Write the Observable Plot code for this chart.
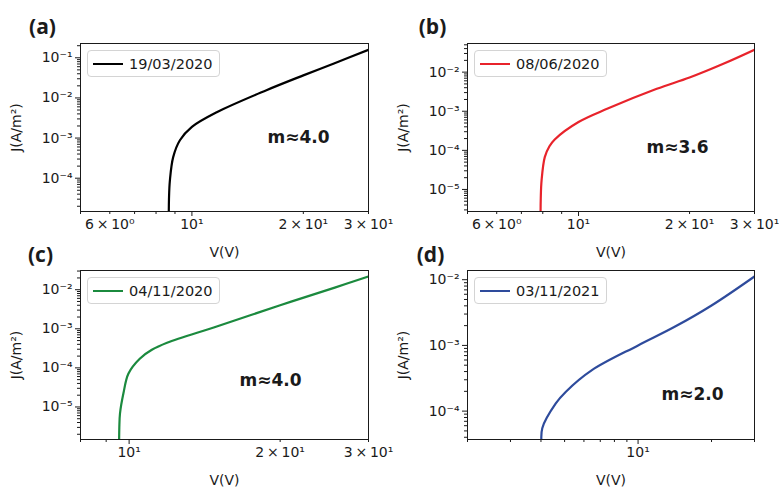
<!DOCTYPE html>
<html>
<head>
<meta charset="utf-8">
<script src="https://cdn.jsdelivr.net/npm/d3@7"></script>
<script src="https://cdn.jsdelivr.net/npm/@observablehq/plot@0.6"></script>
<style>
  body { margin: 0; background: #fff; }
  #fig { position: relative; width: 779px; height: 488px; background: #fff; overflow: hidden; }
  #fig svg { position: absolute; left: 0; top: 0; overflow: visible; }
  .legend { position: absolute; box-sizing: border-box; border: 1px solid #d4d4d4; border-radius: 4px;
            background: rgba(255,255,255,0.85); display: flex; align-items: center;
            font-family: "DejaVu Sans"; font-size: 14.5px; color: #1a1a1a; }
  .legend .swatch { display: inline-block; width: 30px; height: 2px; margin-left: 5px; margin-right: 6px; }
</style>
</head>
<body>
<div id="fig"></div>
<script>
const W = 779, H = 488;

// ---- data ----
const panelLabels = ["(a)", "(b)", "(c)", "(d)"];
const seriesNames = ["19/03/2020", "08/06/2020", "04/11/2020", "03/11/2021"];
const slopeLabels = ["m≈4.0", "m≈3.6", "m≈4.0", "m≈2.0"];
const seriesColors = ["#000000", "#e8232b", "#1b8a3e", "#2e4b9c"];
const xAxisLabel = "V(V)";
const yAxisLabel = "J(A/m²)";

const vA = [8.66, 8.67, 8.72, 8.9, 9.28, 10, 11.67, 15.9, 20, 24.2, 30];
const jA = [1.0e-5, 3.0e-5, 8.8e-5, 3.35e-4, 8.8e-4, 1.9e-3, 4.4e-3, 0.0156, 0.0365, 0.072, 0.158];

const vB = [7.89, 7.9, 7.94, 8.1, 8.34, 8.62, 10, 12, 16.3, 20, 24.7, 30];
const jB = [2.0e-6, 6.0e-6, 1.7e-5, 6.7e-5, 1.27e-4, 1.9e-4, 5.3e-4, 1.17e-3, 3.75e-3, 7.3e-3, 0.0164, 0.0375];

const vC = [9.55, 9.56, 9.59, 9.74, 9.97, 10.5, 11.1, 11.9, 15.0, 20, 25.7, 30];
const jC = [1.0e-6, 3.0e-6, 6.8e-6, 2.2e-5, 7.2e-5, 1.72e-4, 2.9e-4, 4.4e-4, 1.16e-3, 4.0e-3, 0.0113, 0.0219];

const vD = [4.03, 4.05, 4.6, 5.05, 6.47, 10, 14.06, 20, 30];
const jD = [3.0e-5, 5.5e-5, 1.31e-4, 1.96e-4, 4.2e-4, 1.0e-3, 1.9e-3, 4.05e-3, 0.0112];

const xDomains = [[5, 30], [5, 30], [8, 30], [2, 30]];
const yDomains = [[1.48e-5, 0.227], [2.73e-6, 0.054], [1.47e-6, 0.031], [3.7e-5, 0.0138]];

const xTickValues = [[6, 10, 20, 30], [6, 10, 20, 30], [10, 20, 30], [10]];
const xTickLabels = [
  ["6\u2009×\u200910⁰", "10¹", "2\u2009×\u200910¹", "3\u2009×\u200910¹"],
  ["6\u2009×\u200910⁰", "10¹", "2\u2009×\u200910¹", "3\u2009×\u200910¹"],
  ["10¹", "2\u2009×\u200910¹", "3\u2009×\u200910¹"],
  ["10¹"]
];
const yTickValues = [[1e-1, 1e-2, 1e-3, 1e-4], [1e-2, 1e-3, 1e-4, 1e-5], [1e-2, 1e-3, 1e-4, 1e-5], [1e-2, 1e-3, 1e-4]];
const yTickLabels = [
  ["10⁻¹", "10⁻²", "10⁻³", "10⁻⁴"],
  ["10⁻²", "10⁻³", "10⁻⁴", "10⁻⁵"],
  ["10⁻²", "10⁻³", "10⁻⁴", "10⁻⁵"],
  ["10⁻²", "10⁻³", "10⁻⁴"]
];

// ---- layout ----
const frames = [[80, 368, 43, 211], [467, 754, 43, 211], [80, 368, 270, 439], [467, 754, 270, 439]];
const annotOffsets = [[218, 94], [210, 104], [190, 110], [225, 124]];
const labelOffsets = [[-38, -16], [-35, -16], [-40, -15], [-37, -15]];

const vs = [vA, vB, vC, vD];
const js = [jA, jB, jC, jD];

function logTicks(domain, minor) {
  const out = [];
  const k0 = Math.floor(Math.log10(domain[0])), k1 = Math.ceil(Math.log10(domain[1]));
  for (let k = k0; k <= k1; k++) {
    const ms = minor ? [2, 3, 4, 5, 6, 7, 8, 9] : [1];
    for (const m of ms) {
      const v = m * Math.pow(10, k);
      if (v >= domain[0] * 0.999 && v <= domain[1] * 1.001) out.push(v);
    }
  }
  return out;
}

const fig = document.getElementById("fig");
const ink = "#1a1a1a";

for (let i = 0; i < 4; i++) {
  const [x0, x1, y0, y1] = frames[i];
  const fw = x1 - x0, fh = y1 - y0;
  const data = vs[i].map((v, k) => ({V: v, J: js[i][k]}));
  const xd = xDomains[i], yd = yDomains[i];
  const xl = (d) => xTickLabels[i][xTickValues[i].indexOf(d)];
  const yl = (d) => yTickLabels[i][yTickValues[i].indexOf(d)];
  const plot = Plot.plot({
    width: W, height: H,
    marginLeft: x0, marginRight: W - x1, marginTop: y0, marginBottom: H - y1,
    style: {fontFamily: "DejaVu Sans", fontSize: "14px", color: ink, background: "transparent", overflow: "visible"},
    x: {type: "log", domain: xd, axis: null},
    y: {type: "log", domain: yd, axis: null},
    marks: [
      Plot.line(data, {x: "V", y: "J", stroke: seriesColors[i], strokeWidth: 2.2, curve: "catmull-rom", clip: true}),
      Plot.frame({stroke: ink, strokeWidth: 1}),
      // x ticks (major long, minor short), outward
      Plot.ruleX(logTicks(xd, false), {x: d => d, stroke: ink, insetTop: fh, insetBottom: -5}),
      Plot.ruleX(logTicks(xd, true), {x: d => d, stroke: ink, insetTop: fh, insetBottom: -3}),
      Plot.text(xTickValues[i], {x: d => d, text: xl, frameAnchor: "bottom", dy: 8, lineAnchor: "top", fontSize: 14, fill: ink}),
      // y ticks
      Plot.ruleY(logTicks(yd, false), {y: d => d, stroke: ink, insetRight: fw, insetLeft: -5}),
      Plot.ruleY(logTicks(yd, true), {y: d => d, stroke: ink, insetRight: fw, insetLeft: -3}),
      Plot.text(yTickValues[i], {y: d => d, text: yl, frameAnchor: "left", dx: -8, textAnchor: "end", lineAnchor: "middle", fontSize: 14, fill: ink}),
      // axis labels
      Plot.text([xAxisLabel], {text: d => d, frameAnchor: "bottom", dy: 41, lineAnchor: "middle", fontSize: 14, fill: ink}),
      Plot.text([yAxisLabel], {text: d => d, frameAnchor: "left", dx: -64, rotate: -90, textAnchor: "middle", lineAnchor: "middle", fontSize: 14, fill: ink}),
      // annotations
      Plot.text([slopeLabels[i]], {text: d => d, frameAnchor: "top-left", dx: annotOffsets[i][0], dy: annotOffsets[i][1], textAnchor: "middle", lineAnchor: "middle", fontSize: 17, fontWeight: "bold", fill: ink}),
      Plot.text([panelLabels[i]], {text: d => d, frameAnchor: "top-left", dx: labelOffsets[i][0], dy: labelOffsets[i][1], textAnchor: "middle", lineAnchor: "middle", fontSize: 21, fontWeight: "bold", fontFamily: "Open Sans", fill: "#1b1b1b"})
    ]
  });
  fig.appendChild(plot);

  const lg = document.createElement("div");
  lg.className = "legend";
  lg.style.left = (x0 + 7) + "px";
  lg.style.top = (y0 + 7) + "px";
  lg.style.width = "133px";
  lg.style.height = "27px";
  const sw = document.createElement("span");
  sw.className = "swatch";
  sw.style.background = seriesColors[i];
  const tx = document.createElement("span");
  tx.textContent = seriesNames[i];
  lg.appendChild(sw);
  lg.appendChild(tx);
  fig.appendChild(lg);
}
</script>
</body>
</html>
